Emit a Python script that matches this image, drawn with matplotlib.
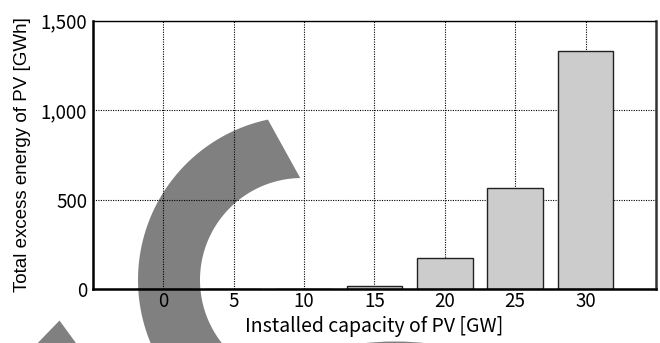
import numpy as np
import matplotlib
matplotlib.use('Agg')
import matplotlib.pyplot as plt
from matplotlib.patches import Polygon, Ellipse

# Excess PV energy by installed capacity
capacity_gw = [0, 5, 10, 15, 20, 25, 30]
excess_gwh = [0, 0, 0, 17, 172, 568, 1330]
y_ticks = [0, 500, 1000, 1500]
y_tick_labels = ['0', '500', '1,000', '1,500']

W, H = 660, 343
fig = plt.figure(figsize=(W / 100, H / 100), dpi=100)
ax = fig.add_axes([0.1405, 0.1566, 0.8534, 0.7831])
ax.patch.set_facecolor('none')

jp = ['Noto Sans CJK JP', 'DejaVu Sans']


def px(points):
    # pixel coords (origin top-left) -> figure fraction
    pts = np.asarray(points, dtype=float)
    return np.column_stack([pts[:, 0] / W, 1 - pts[:, 1] / H])


# big grey curved band behind the chart
cx, cy = 302, 280
r_in, r_out = 102, 164
a_out = np.radians(np.linspace(102, 235, 80))
a_in = np.radians(np.linspace(235, 91, 80))
outer = np.column_stack([cx + r_out * np.cos(a_out), cy - r_out * np.sin(a_out)])
inner = np.column_stack([cx + r_in * np.cos(a_in), cy - r_in * np.sin(a_in)])
band = Polygon(px(np.vstack([outer, inner])), closed=True, transform=fig.transFigure,
               facecolor='#808080', edgecolor='none', zorder=-1)
fig.patches.append(band)

tri = Polygon(px([(59.5, 320.5), (31, 350), (81, 350)]), closed=True,
              transform=fig.transFigure, facecolor='#808080', edgecolor='none', zorder=-1)
fig.patches.append(tri)

dome = Ellipse((395 / W, 1 - 349 / H), 96 / W, 15 / H, transform=fig.transFigure,
               facecolor='#808080', edgecolor='none', zorder=-1)
fig.patches.append(dome)

ax.bar(capacity_gw, excess_gwh, width=3.95, color='#cccccc', edgecolor='#222222',
       linewidth=1.0, zorder=2)

ax.set_xlim(-5, 35)
ax.set_ylim(0, 1500)
ax.set_xticks(capacity_gw)
ax.set_xticklabels([str(c) for c in capacity_gw], family=jp, fontsize=13.5)
ax.set_yticks(y_ticks)
ax.set_yticklabels(y_tick_labels, family=jp, fontsize=13.5)
ax.tick_params(axis='x', length=0, pad=1, colors='black')
ax.tick_params(axis='y', length=0, pad=4, colors='black')

ax.set_axisbelow(True)
ax.grid(True, color='black', linestyle=(0, (1, 1.2)), linewidth=0.8)

for side in ['left', 'bottom']:
    ax.spines[side].set_linewidth(1.8)
    ax.spines[side].set_color('black')
ax.spines['right'].set_linewidth(1.8)
ax.spines['right'].set_color('#333333')
ax.spines['top'].set_linewidth(1.0)
ax.spines['top'].set_linestyle((0, (1, 1)))

ax.set_xlabel('Installed capacity of PV [GW]', family=jp, fontsize=14, labelpad=3)
ax.set_ylabel('Total excess energy of PV [GWh]', family='Liberation Sans', fontsize=13.5,
              labelpad=7)

fig.savefig('out.png', dpi=100)
